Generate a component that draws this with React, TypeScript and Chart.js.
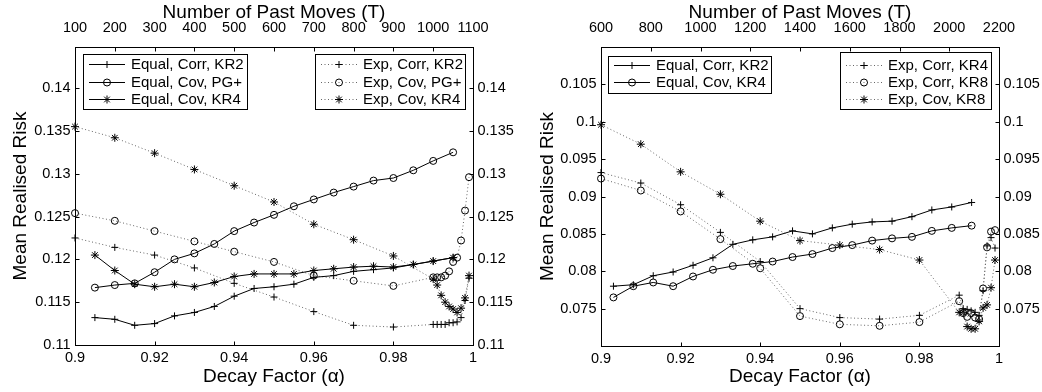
import React, { useEffect, useRef } from 'react';
import { Chart, registerables } from 'chart.js';
import { drawPoint } from 'chart.js/helpers';

Chart.register(...registerables);

const FONT = '"Liberation Sans", Arial, Helvetica, sans-serif';

// ---------- shared axes ----------
const alphaTicks = [0.9, 0.92, 0.94, 0.96, 0.98, 1];
const alphaPts = [0.9, 0.91, 0.92, 0.93, 0.94, 0.95, 0.96, 0.97, 0.98, 0.99, 0.991, 0.992, 0.993, 0.994, 0.995, 0.996, 0.997, 0.998, 0.999];

// ---------- left panel ----------
const leftTTicks = [100, 200, 300, 400, 500, 600, 700, 800, 900, 1000, 1100];
const leftYTicks = [0.11, 0.115, 0.12, 0.125, 0.13, 0.135, 0.14];
const leftTPts = [150, 200, 250, 300, 350, 400, 450, 500, 550, 600, 650, 700, 750, 800, 850, 900, 950, 1000, 1050];

const leftEqCorrKR2 = [0.1132, 0.1130, 0.1123, 0.1125, 0.1134, 0.1138, 0.1145, 0.1157, 0.1166, 0.1168, 0.1171, 0.1179, 0.1181, 0.1186, 0.1188, 0.1190, 0.1194, 0.1198, 0.1202];
const leftEqCovPG = [0.1167, 0.1170, 0.1172, 0.1185, 0.1200, 0.1207, 0.1218, 0.1233, 0.1243, 0.1252, 0.1262, 0.1270, 0.1278, 0.1285, 0.1292, 0.1295, 0.1304, 0.1315, 0.1325];
const leftEqCovKR4 = [0.1205, 0.1187, 0.1171, 0.1168, 0.1171, 0.1168, 0.1173, 0.1180, 0.1183, 0.1183, 0.1183, 0.1187, 0.1189, 0.1191, 0.1192, 0.1191, 0.1194, 0.1198, 0.1202];

const leftExpCorrKR2 = [0.1225, 0.1214, 0.1205, 0.1190, 0.1172, 0.1156, 0.1139, 0.1123, 0.1121, 0.1124, 0.1124, 0.1124, 0.1124, 0.1126, 0.1126, 0.1127, 0.1132, 0.1152, 0.1178];
const leftExpCovPG = [0.1254, 0.1245, 0.1233, 0.1221, 0.1209, 0.1197, 0.1181, 0.1175, 0.1169, 0.1179, 0.1179, 0.1179, 0.1181, 0.1186, 0.1197, 0.1202, 0.1222, 0.1257, 0.1296];
const leftExpCovKR4 = [0.1355, 0.1342, 0.1324, 0.1305, 0.1286, 0.1267, 0.1241, 0.1223, 0.1204, 0.1177, 0.1170, 0.1158, 0.1150, 0.1145, 0.1142, 0.1138, 0.1143, 0.1155, 0.1181];

// ---------- right panel ----------
const rightTTicks = [600, 800, 1000, 1200, 1400, 1600, 1800, 2000, 2200];
const rightYTicks = [0.075, 0.08, 0.085, 0.09, 0.095, 0.1, 0.105];
const rightTPts = [650, 730, 810, 890, 970, 1050, 1130, 1210, 1290, 1370, 1450, 1530, 1610, 1690, 1770, 1850, 1930, 2010, 2090];

const rightEqCorrKR2 = [0.0780, 0.0782, 0.0794, 0.0799, 0.0808, 0.0818, 0.0836, 0.0842, 0.0846, 0.0854, 0.0850, 0.0858, 0.0863, 0.0866, 0.0867, 0.0873, 0.0882, 0.0886, 0.0892];
const rightEqCovKR4 = [0.0765, 0.0780, 0.0785, 0.0780, 0.0793, 0.0802, 0.0807, 0.0810, 0.0813, 0.0819, 0.0823, 0.0831, 0.0835, 0.0841, 0.0844, 0.0846, 0.0854, 0.0858, 0.0861];

const rightExpCorrKR4 = [0.0932, 0.0918, 0.0889, 0.0852, 0.0813, 0.0750, 0.0738, 0.0736, 0.0741, 0.0768, 0.0750, 0.0749, 0.0747, 0.0745, 0.0741, 0.0774, 0.0834, 0.0845, 0.0831];
const rightExpCorrKR8 = [0.0924, 0.0908, 0.0880, 0.0843, 0.0804, 0.0740, 0.0729, 0.0727, 0.0732, 0.0760, 0.0744, 0.0739, 0.0744, 0.0738, 0.0736, 0.0777, 0.0832, 0.0853, 0.0855];
const rightExpCovKR8 = [0.0996, 0.0970, 0.0933, 0.0903, 0.0867, 0.0841, 0.0835, 0.0829, 0.0815, 0.0745, 0.0745, 0.0726, 0.0723, 0.0723, 0.0733, 0.0751, 0.0755, 0.0778, 0.0815];

// ---------- styling helpers ----------
const markerRadius: Record<string, number> = { cross: 3.5, circle: 3.5, star: 4 };

function solidSet(label: string, style: string, xs: number[], ys: number[]) {
  return {
    label,
    xAxisID: 'xT',
    yAxisID: 'y',
    data: xs.map((x, i) => ({ x, y: ys[i] })),
    borderColor: '#000',
    borderWidth: 1,
    borderDash: [] as number[],
    pointStyle: style,
    pointRadius: markerRadius[style],
    pointBorderColor: '#000',
    pointBackgroundColor: 'rgba(0,0,0,0)',
    pointBorderWidth: 1,
    tension: 0,
    fill: false,
    clip: false as any,
  };
}

function dottedSet(label: string, style: string, xs: number[], ys: number[]) {
  return {
    label,
    xAxisID: 'x',
    yAxisID: 'y',
    data: xs.map((x, i) => ({ x, y: ys[i] })),
    borderColor: '#666',
    borderWidth: 1,
    borderDash: [1, 2.5],
    pointStyle: style,
    pointRadius: markerRadius[style],
    pointBorderColor: '#000',
    pointBackgroundColor: 'rgba(0,0,0,0)',
    pointBorderWidth: 1,
    tension: 0,
    fill: false,
    clip: false as any,
  };
}

const frameTicksPlugin = {
  id: 'frameTicks',
  afterDatasetsDraw(chart: any) {
    const { ctx, chartArea: a, scales } = chart;
    const L = Math.round(a.left) + 0.5;
    const R = Math.round(a.right) + 0.5;
    const T = Math.round(a.top) + 0.5;
    const B = Math.round(a.bottom) + 0.5;
    const len = 4;
    ctx.save();
    ctx.setLineDash([]);
    ctx.strokeStyle = '#000';
    ctx.lineWidth = 1;
    ctx.strokeRect(L, T, R - L, B - T);
    ctx.beginPath();
    const near = (p: number, e: number) => Math.abs(p - e) < 1.5;
    for (const t of scales.x.ticks) {
      const p = Math.round(scales.x.getPixelForValue(t.value)) + 0.5;
      if (near(p, L) || near(p, R)) continue;
      ctx.moveTo(p, B); ctx.lineTo(p, B - len);
    }
    for (const t of scales.xT.ticks) {
      const p = Math.round(scales.xT.getPixelForValue(t.value)) + 0.5;
      if (near(p, L) || near(p, R)) continue;
      ctx.moveTo(p, T); ctx.lineTo(p, T + len);
    }
    for (const t of scales.y.ticks) {
      const p = Math.round(scales.y.getPixelForValue(t.value)) + 0.5;
      if (near(p, T) || near(p, B)) continue;
      ctx.moveTo(L, p); ctx.lineTo(L + len, p);
    }
    for (const t of scales.y2.ticks) {
      const p = Math.round(scales.y2.getPixelForValue(t.value)) + 0.5;
      if (near(p, T) || near(p, B)) continue;
      ctx.moveTo(R, p); ctx.lineTo(R - len, p);
    }
    ctx.stroke();
    ctx.restore();
  },
};

const boxLegendPlugin = {
  id: 'boxLegend',
  afterDraw(chart: any, _args: any, opts: any) {
    const ctx = chart.ctx;
    for (const b of opts.boxes || []) {
      ctx.save();
      ctx.setLineDash([]);
      ctx.fillStyle = '#fff';
      ctx.fillRect(b.x, b.y, b.w, b.h);
      ctx.strokeStyle = '#000';
      ctx.lineWidth = 1;
      ctx.strokeRect(b.x + 0.5, b.y + 0.5, b.w, b.h);
      b.items.forEach((di: number, k: number) => {
        const ds = chart.data.datasets[di];
        const yy = Math.round(b.row0 + k * b.gap) + 0.5;
        ctx.beginPath();
        ctx.strokeStyle = ds.borderColor;
        ctx.lineWidth = ds.borderWidth;
        ctx.setLineDash(ds.borderDash || []);
        ctx.moveTo(b.x + 6, yy);
        ctx.lineTo(b.x + 42, yy);
        ctx.stroke();
        ctx.setLineDash([]);
        ctx.strokeStyle = '#000';
        ctx.fillStyle = 'rgba(0,0,0,0)';
        ctx.lineWidth = 1;
        drawPoint(ctx, { pointStyle: ds.pointStyle, radius: ds.pointRadius, rotation: 0, borderWidth: 1 } as any, b.x + 24, yy);
        ctx.fillStyle = '#000';
        ctx.font = `15px ${FONT}`;
        ctx.textBaseline = 'middle';
        ctx.textAlign = 'left';
        ctx.fillText(ds.label, b.x + 48, yy);
      });
      ctx.restore();
    }
  },
};

type Panel = {
  tMin: number; tMax: number; tTicks: number[];
  yMin: number; yMax: number; yTicks: number[];
  datasets: any[];
  boxes: any[];
  leftW: number; rightW: number; topH: number; bottomH: number;
  yTitlePad: number; topTickPad: number; bottomTickPad: number; yTickPad: number;
};

function makeConfig(p: Panel): any {
  const tickFont = { family: FONT, size: 14.5 };
  const titleFont = { family: FONT, size: 19, lineHeight: 1 };
  const fmt = (v: any) => String(+Number(v).toFixed(4));
  const setTicks = (arr: number[]) => (s: any) => { s.ticks = arr.map((v) => ({ value: v })); };
  const common = {
    type: 'linear',
    grid: { display: false, drawTicks: false },
    border: { display: false },
  };
  return {
    type: 'line',
    data: { datasets: p.datasets },
    options: {
      animation: false,
      responsive: false,
      maintainAspectRatio: false,
      layout: { padding: 0 },
      plugins: {
        legend: { display: false },
        tooltip: { enabled: false },
        boxLegend: { boxes: p.boxes },
      },
      scales: {
        x: {
          ...common,
          position: 'bottom',
          min: 0.9,
          max: 1,
          afterBuildTicks: setTicks(alphaTicks),
          afterFit: (s: any) => { s.height = p.bottomH; },
          ticks: { callback: fmt, font: tickFont, color: '#000', padding: p.bottomTickPad, autoSkip: false, maxRotation: 0, minRotation: 0 },
          title: { display: true, text: 'Decay Factor (α)', font: titleFont, color: '#000', padding: { top: 0, bottom: 5.5 } },
        },
        xT: {
          ...common,
          position: 'top',
          min: p.tMin,
          max: p.tMax,
          afterBuildTicks: setTicks(p.tTicks),
          afterFit: (s: any) => { s.height = p.topH; },
          ticks: { callback: fmt, font: tickFont, color: '#000', padding: p.topTickPad, autoSkip: false, maxRotation: 0, minRotation: 0 },
          title: { display: true, text: 'Number of Past Moves (T)', font: titleFont, color: '#000', padding: { top: 2.8, bottom: 0 } },
        },
        y: {
          ...common,
          position: 'left',
          min: p.yMin,
          max: p.yMax,
          afterBuildTicks: setTicks(p.yTicks),
          afterFit: (s: any) => { s.width = p.leftW; },
          ticks: { callback: fmt, font: tickFont, color: '#000', padding: p.yTickPad },
          title: { display: true, text: 'Mean Realised Risk', font: titleFont, color: '#000', padding: { top: p.yTitlePad, bottom: 0 } },
        },
        y2: {
          ...common,
          position: 'right',
          min: p.yMin,
          max: p.yMax,
          afterBuildTicks: setTicks(p.yTicks),
          afterFit: (s: any) => { s.width = p.rightW; },
          ticks: { callback: fmt, font: tickFont, color: '#000', padding: p.yTickPad },
        },
      },
    },
    plugins: [frameTicksPlugin, boxLegendPlugin],
  };
}

const leftPanel: Panel = {
  tMin: 100, tMax: 1100, tTicks: leftTTicks,
  yMin: 0.11, yMax: 0.1448, yTicks: leftYTicks,
  datasets: [
    solidSet('Equal, Corr, KR2', 'cross', leftTPts, leftEqCorrKR2),
    solidSet('Equal, Cov, PG+', 'circle', leftTPts, leftEqCovPG),
    solidSet('Equal, Cov, KR4', 'star', leftTPts, leftEqCovKR4),
    dottedSet('Exp, Corr, KR2', 'cross', alphaPts, leftExpCorrKR2),
    dottedSet('Exp, Cov, PG+', 'circle', alphaPts, leftExpCovPG),
    dottedSet('Exp, Cov, KR4', 'star', alphaPts, leftExpCovKR4),
  ],
  boxes: [
    { x: 83, y: 54, w: 164, h: 55, row0: 64, gap: 17.5, items: [0, 1, 2] },
    { x: 315, y: 54, w: 150, h: 55, row0: 64, gap: 17.5, items: [3, 4, 5] },
  ],
  leftW: 75, rightW: 48, topH: 47, bottomH: 47,
  yTitlePad: 11.5, topTickPad: 10, bottomTickPad: 4.5, yTickPad: 4.5,
};

const rightPanel: Panel = {
  tMin: 600, tMax: 2200, tTicks: rightTTicks,
  yMin: 0.07, yMax: 0.11, yTicks: rightYTicks,
  datasets: [
    solidSet('Equal, Corr, KR2', 'cross', rightTPts, rightEqCorrKR2),
    solidSet('Equal, Cov, KR4', 'circle', rightTPts, rightEqCovKR4),
    dottedSet('Exp, Corr, KR4', 'cross', alphaPts, rightExpCorrKR4),
    dottedSet('Exp, Corr, KR8', 'circle', alphaPts, rightExpCorrKR8),
    dottedSet('Exp, Cov, KR8', 'star', alphaPts, rightExpCovKR8),
  ],
  boxes: [
    { x: 87, y: 56, w: 163, h: 37, row0: 65, gap: 17, items: [0, 1] },
    { x: 319, y: 52, w: 151, h: 57, row0: 65, gap: 16.8, items: [2, 3, 4] },
  ],
  leftW: 80, rightW: 43, topH: 47, bottomH: 46,
  yTitlePad: 17, topTickPad: 10, bottomTickPad: 4, yTickPad: 4.5,
};

function ChartCanvas({ panel, left }: { panel: Panel; left: number }) {
  const ref = useRef<HTMLCanvasElement | null>(null);
  useEffect(() => {
    if (!ref.current) return;
    const chart = new Chart(ref.current, makeConfig(panel));
    return () => chart.destroy();
  }, [panel]);
  return (
    <canvas
      ref={ref}
      width={521}
      height={392}
      style={{ position: 'absolute', left, top: 0, width: 521, height: 392 }}
    />
  );
}

export default function App() {
  return (
    <div style={{ position: 'absolute', left: 0, top: 0, width: 1042, height: 392, background: '#fff', overflow: 'hidden' }}>
      <ChartCanvas panel={leftPanel} left={0} />
      <ChartCanvas panel={rightPanel} left={521} />
    </div>
  );
}
